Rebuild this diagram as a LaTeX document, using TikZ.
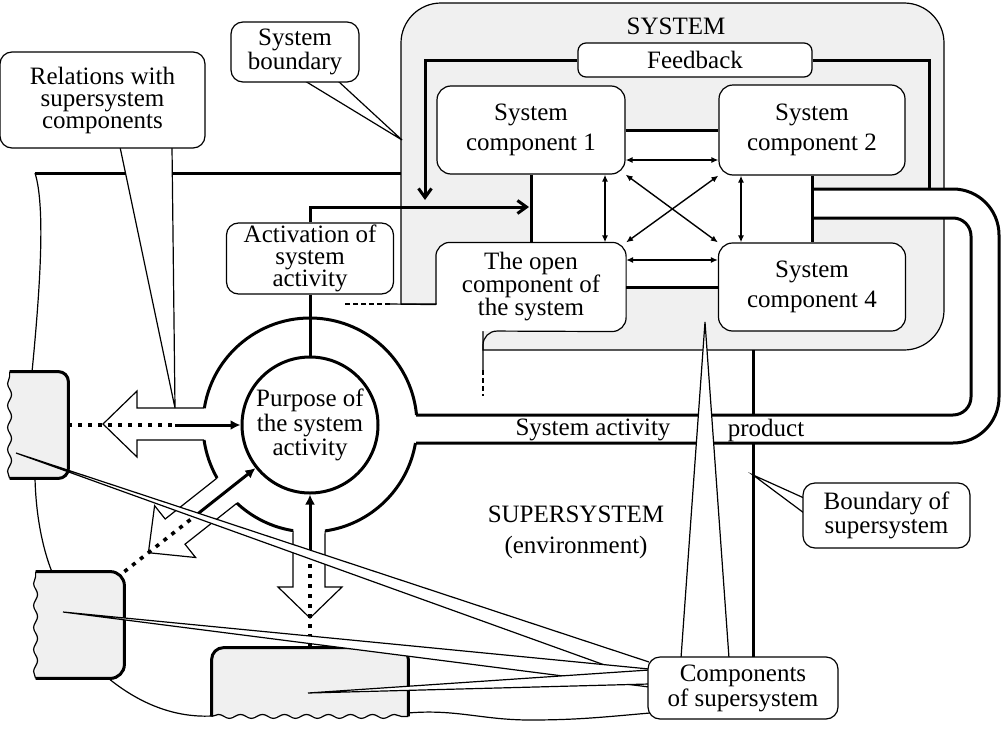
\documentclass[tikz,border=0pt]{standalone}
\usepackage{fontspec}
\setmainfont{Liberation Serif}
\usepackage{tikz}
\usetikzlibrary{arrows.meta,calc,decorations.pathmorphing}
\definecolor{sys-gray}{HTML}{F0F0F0}
\tikzset{
  thickline/.style={line width=1.5pt},
  thinline/.style={line width=0.6pt},
  syscomp/.style={
    rectangle, rounded corners=7pt,
    draw, thinline, fill=white,
    align=center, inner sep=0pt,
    font=\fontsize{12.5}{15}\selectfont
  },
  callout/.style={
    rectangle, rounded corners=6pt,
    draw, thinline, fill=white,
    align=center, inner sep=0pt,
    font=\fontsize{12.5}{11}\selectfont
  },
  sscomp/.style={rectangle, inner sep=0pt},
  tailwedge/.style={thinline, fill=white},
  torn/.style={thinline, decorate,
    decoration={snake, amplitude=1pt, segment length=11pt}},
}

\begin{document}
\begin{tikzpicture}[x=0.5pt, y=-0.5pt,
  font=\fontsize{12.5}{15}\selectfont,
  dblarr/.style={{Latex[length=3.5pt,width=3pt]}-{Latex[length=3.5pt,width=3pt]}, line width=0.7pt},
  barbarr/.style={-{Straight Barb[length=4.5pt,width=6.5pt]}, thickline},
  goalarr/.style={-{Latex[length=5pt,width=5pt]}, thickline},
  dotline/.style={line width=1.8pt, dash pattern=on 2pt off 3pt},
  hollow/.style={thinline, fill=white},
  openext/.style={thinline, dash pattern=on 2.5pt off 1.5pt}
]
\useasboundingbox (0,0) rectangle (1006,728);

% system area
\filldraw[fill=sys-gray, thinline] (401,304) -- (401,43)
  arc[start angle=180, end angle=270, radius=40] -- (904,3)
  arc[start angle=270, end angle=360, radius=40] -- (944,310)
  arc[start angle=0, end angle=90, radius=40] -- (483,350) -- (483,304) -- cycle;
\fill[white] (531,130) rectangle (812,287);

% supersystem boundary
\coordinate (bndL) at (35,173);
\coordinate (bndR) at (401,173);
\coordinate (bndB) at (753,350);
\draw[thickline] (bndL) -- (bndR);
\draw[thickline] (bndB) -- (753,657);

% system activity product
\draw[white, line width=14pt, rounded corners=16pt] (812,203.5) -| (985,429) -- (416,429);
\draw[thickline, rounded corners=23pt] (812,189) -| (999,443) -- (416,443);
\draw[thickline, rounded corners=9pt] (812,218) -| (971,415) -- (416,415);

\node[syscomp, minimum width=94pt, minimum height=44pt] (comp1) at (531,130) {System\\component 1};
\node[syscomp, minimum width=93pt, minimum height=45pt] (comp2) at (812,130) {System\\component 2};
\node[syscomp, draw=none, minimum width=94.5pt, minimum height=44pt,
      font=\fontsize{12.5}{11.5}\selectfont] (open) at (531,287) {The open\\component of\\the system};
\node[syscomp, minimum width=93.5pt, minimum height=44pt] (comp4) at (812,287) {System\\component 4};
\node[callout, rounded corners=4pt, minimum width=117pt, minimum height=17pt,
      font=\fontsize{12.5}{15}\selectfont] (feedback) at (695,60) {Feedback};
\node[callout, minimum width=83.5pt, minimum height=35.5pt] (activation) at (310,258.5) {Activation of\\system\\activity};
\node[circle, draw, thickline, fill=white, minimum size=68pt, inner sep=0pt, align=center,
      font=\fontsize{12.5}{10.75}\selectfont] (purpose) at (310,425) {Purpose of\\the system\\activity};

% open component
\draw[thinline, rounded corners=7pt] ($(open.south west)+(0,-27)$) -- (open.north west)
  -- (open.north east) -- (open.south east) -- (483,331) -- (483,370);
\draw[thinline] ($(open.south west)+(0,-27)$) -- (390,304);
\draw[openext] (390,304) -- (343,304);
\draw[openext] (483,370) -- (483,396);

\draw[thickline] (comp1) -- (comp2);
\draw[thickline] (comp1) -- (open);
\draw[thickline] (comp2) -- (comp4);
\draw[thickline] (open) -- (comp4);

\draw[dblarr] ($(comp1.east)+(0,30)$) -- ($(comp2.west)+(0,30)$);
\draw[dblarr] ($(open.east)+(0,-27)$) -- ($(comp4.west)+(0,-27)$);
\draw[dblarr] ($(comp1.south)+(74,0)$) -- ($(open.north)+(74,0)$);
\draw[dblarr] ($(comp2.south)+(-71,0)$) -- ($(comp4.north)+(-71,0)$);
\draw[dblarr] (comp1.south east) -- (comp4.north west);
\draw[dblarr] (comp2.south west) -- (open.north east);

\coordinate (fbL) at (425,200);
\coordinate (fbR) at (929,189);
\draw[barbarr] (feedback.west) -| (fbL);
\draw[thickline] (feedback.east) -| (fbR);

\coordinate (actT) at (529,207);
\draw[barbarr] (activation.north) |- (actT);
\draw[thickline] (activation.south) -- (purpose.north);

% relations round the purpose
\filldraw[hollow] (204.4,408) -- (137,408) -- (137,391) -- (103,424) -- (137,457) -- (137,440) -- (204.1,440);
\filldraw[hollow] (293.1,530.7) -- (293,587) -- (278,587) -- (310,618) -- (342,587) -- (325,587) -- (325.1,530.9);
\filldraw[hollow] (217.1,478.0) -- (165.2,519.0) -- (154.6,505.7) -- (148.4,552.7)
  -- (195.6,557.5) -- (185.0,544.2) -- (236.9,503.2);

\coordinate (pc) at (310,425);
\draw[thickline] ($(pc)+(-170.9:107)$) arc[start angle=-170.9, end angle=-5.4, radius=107];
\draw[thickline] ($(pc)+(9.7:107)$) arc[start angle=9.7, end angle=81.9, radius=107];
\draw[thickline] ($(pc)+(99.1:107)$) arc[start angle=99.1, end angle=133.1, radius=107];
\draw[thickline] ($(pc)+(150.3:107)$) arc[start angle=150.3, end angle=171.9, radius=107];

% supersystem components
\node[sscomp, minimum width=29pt, minimum height=53pt] (s1) at (39,425) {};
\node[sscomp, minimum width=44pt, minimum height=53pt] (s2) at (80,625) {};
\node[sscomp, minimum width=98pt, minimum height=34pt] (s3) at (310,682) {};
\filldraw[fill=sys-gray, thickline, rounded corners=5pt] (s1.north west) -- (s1.north east) -- (s1.south east) -- (s1.south west);
\draw[torn] (s1.south west) -- (s1.north west);
\filldraw[fill=sys-gray, thickline, rounded corners=7pt] (s2.north west) -- (s2.north east) -- (s2.south east) -- (s2.south west);
\draw[torn] (s2.south west) -- (s2.north west);
\filldraw[fill=sys-gray, thickline, rounded corners=6pt] (s3.south west) -- (s3.north west) -- (s3.north east) -- (s3.south east);
\draw[torn] (s3.south west) -- (s3.south east);

\draw[thinline] (bndL) .. controls (45,205) and (41,280) .. (32,372);
\draw[thinline] (35,478) .. controls (36,520) and (44,552) .. (52,572);
\draw[thinline] (108,678) .. controls (135,700) and (170,718) .. (212,716);
\draw[thinline] (408,713) to[out=5,in=180] (530,720) to[out=0,in=185] (650,713);

\coordinate (hmid) at (175,425);
\coordinate (dmid) at (195,516);
\coordinate (vmid) at (310,555);
\draw[dotline] (s1.east) -- (hmid);
\draw[goalarr] (hmid) -- (purpose.west);
\draw[dotline] (s2.north east) -- (dmid);
\draw[goalarr] (dmid) -- (purpose);
\draw[dotline] (s3.north) -- (vmid);
\draw[goalarr] (vmid) -- (purpose.south);

% callouts
\filldraw[tailwedge] (120,147) -- (175,408) -- (172,147);
\filldraw[tailwedge] (305,81) -- (402,140) -- (338,81);
\filldraw[tailwedge] (804,498) -- (753,475) -- (804,513);
\filldraw[tailwedge] (681,658) -- (705,322) -- (729,658);
\filldraw[tailwedge] (649,662) -- (16,453) -- (649,681);
\filldraw[tailwedge] (649,669) -- (63,612) -- (649,687);
\filldraw[tailwedge] (649,670) -- (308,693) -- (649,684);

\node[callout, minimum width=102.5pt, minimum height=48pt] (relations) at (102.5,100) {Relations with\\supersystem\\components};
\node[callout, minimum width=64pt, minimum height=30pt] (sysbound) at (295,52) {System\\boundary};
\node[callout, minimum width=83.5pt, minimum height=32.5pt,
      font=\fontsize{12.5}{12}\selectfont] (ssbound) at (886.5,515.5) {Boundary of\\supersystem};
\node[callout, minimum width=95pt, minimum height=31pt,
      font=\fontsize{12.5}{12.5}\selectfont] (sscomps) at (743,688) {Components\\of supersystem};

\node (systitle) at (676,26) {SYSTEM};
\node[align=center, font=\fontsize{12.5}{15.5}\selectfont] (envlabel) at (576,532) {SUPERSYSTEM\\(environment)};
\node (actlabel) at (593,430) {System activity};
\node (prodlabel) at (766,430) {product};

\end{tikzpicture}
\end{document}
